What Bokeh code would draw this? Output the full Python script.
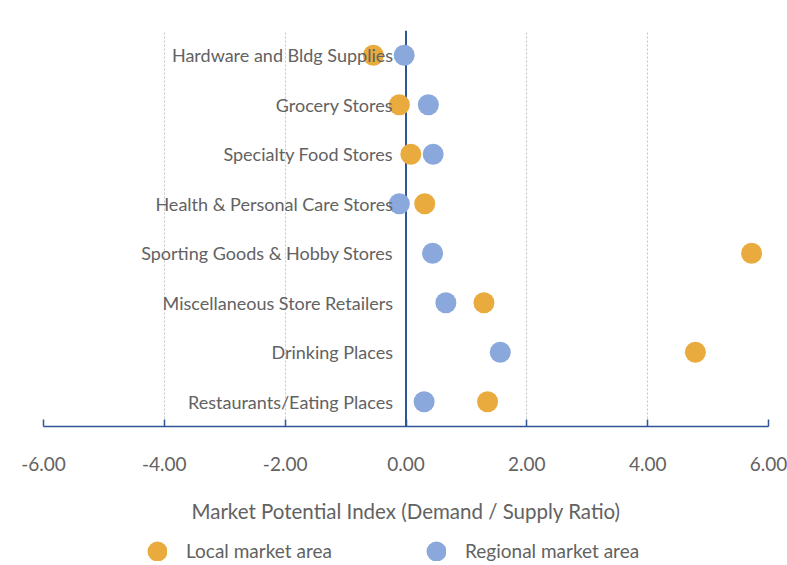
from bokeh.plotting import figure
from bokeh.layouts import column
from bokeh.models import Range1d, FactorRange, FixedTicker, NumeralTickFormatter, Span, Legend, LegendItem, ColumnDataSource
from bokeh.core.properties import value
from bokeh.embed import file_html
from bokeh.resources import INLINE

categories = [
    "Hardware and Bldg Supplies",
    "Grocery Stores",
    "Specialty Food Stores",
    "Health & Personal Care Stores",
    "Sporting Goods & Hobby Stores",
    "Miscellaneous Store Retailers",
    "Drinking Places",
    "Restaurants/Eating Places",
]
local_values = [-0.54, -0.11, 0.08, 0.31, 5.72, 1.29, 4.79, 1.35]
regional_values = [-0.03, 0.37, 0.45, -0.11, 0.44, 0.66, 1.56, 0.30]
x_ticks = [-6, -4, -2, 0, 2, 4, 6]
series_names = ["Local market area", "Regional market area"]

LOCAL_COLOR = "#E9AB3E"
REGIONAL_COLOR = "#8AA8DB"
AXIS_COLOR = "#2F5597"
TEXT_COLOR = "#626262"
FONT = "Lato"

p = figure(
    width=787, height=540,
    x_range=Range1d(-6, 6),
    y_range=FactorRange(factors=list(reversed(categories))),
    output_backend="svg", toolbar_location=None,
    y_axis_location=None,
    min_border_left=43, min_border_right=19, min_border_top=30, min_border_bottom=114,
)
p.outline_line_color = None
p.background_fill_color = "white"
p.border_fill_color = "white"

# grid
p.ygrid.grid_line_color = None
p.xgrid.ticker = FixedTicker(ticks=x_ticks)
p.xgrid.grid_line_color = "#C4C4C4"
p.xgrid.grid_line_dash = "2 2"
p.xgrid.grid_line_width = 1

# x axis
xa = p.xaxis[0]
xa.ticker = FixedTicker(ticks=x_ticks)
xa.formatter = NumeralTickFormatter(format="0.00")
xa.axis_line_color = AXIS_COLOR
xa.axis_line_width = 1.5
xa.major_tick_line_color = AXIS_COLOR
xa.major_tick_line_width = 1.5
xa.major_tick_in = 7
xa.major_tick_out = 0
xa.minor_tick_line_color = None
xa.major_label_text_font = FONT
xa.major_label_text_font_size = "19px"
xa.major_label_text_color = TEXT_COLOR
xa.major_label_standoff = 30
xa.axis_label = "Market Potential Index (Demand / Supply Ratio)"
xa.axis_label_text_font = FONT
xa.axis_label_text_font_size = "20.5px"
xa.axis_label_text_font_style = "normal"
xa.axis_label_text_color = TEXT_COLOR
xa.axis_label_standoff = 25

zero = Span(location=0, dimension="height", line_color=AXIS_COLOR, line_width=2, level="underlay")
p.add_layout(zero)

src = ColumnDataSource(dict(cat=categories, local=local_values, regional=regional_values,
                            zeros=[0] * len(categories)))

p.scatter(x="local", y="cat", source=src, size=21, marker="circle",
          fill_color=LOCAL_COLOR, line_color=None)
p.scatter(x="regional", y="cat", source=src, size=21, marker="circle",
          fill_color=REGIONAL_COLOR, line_color=None)

p.text(x="zeros", y="cat", text="cat", source=src, x_offset=-13,
       text_align="right", text_baseline="middle",
       text_font=value(FONT), text_font_size="18px", text_color=TEXT_COLOR)

# ---- legend strip below the chart ----
p2 = figure(
    width=787, height=25,
    x_range=Range1d(100, 101), y_range=Range1d(100, 101),
    output_backend="svg", toolbar_location=None,
    x_axis_location=None, y_axis_location=None,
    min_border_left=0, min_border_right=0, min_border_top=0, min_border_bottom=0,
)
p2.outline_line_color = None
p2.grid.grid_line_color = None
p2.background_fill_color = "white"
p2.border_fill_color = "white"

# same series, plotted outside this strip's ranges: only their legend glyphs show
leg_local = p2.scatter(x="local", y="local", source=src, size=8, marker="circle",
                       fill_color=LOCAL_COLOR, line_color=LOCAL_COLOR, line_width=12)
leg_regional = p2.scatter(x="regional", y="regional", source=src, size=8, marker="circle",
                          fill_color=REGIONAL_COLOR, line_color=REGIONAL_COLOR, line_width=12)

legend = Legend(
    items=[LegendItem(label=series_names[0], renderers=[leg_local], index=0),
           LegendItem(label=series_names[1], renderers=[leg_regional], index=0)],
    location=(104, 3), orientation="horizontal",
    padding=0, margin=0, spacing=40,
    glyph_width=20, glyph_height=20, label_standoff=19, label_width=200,
    label_text_font=FONT, label_text_font_size="19px",
    label_text_color=TEXT_COLOR, label_height=20,
    background_fill_alpha=0, border_line_color=None,
)
p2.add_layout(legend, "center")

layout = column(p, p2, spacing=0)
open("out.html", "w").write(file_html(layout, INLINE))
